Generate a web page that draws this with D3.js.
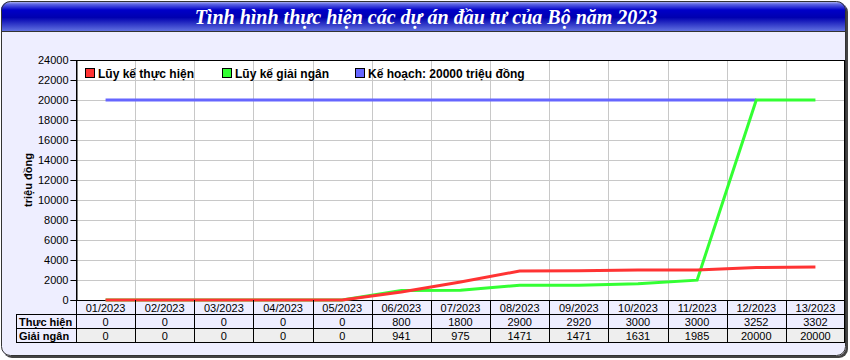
<!DOCTYPE html>
<html><head><meta charset="utf-8">
<script src="https://cdn.jsdelivr.net/npm/d3@7/dist/d3.min.js"></script>
<style>body{margin:0;background:#fff}svg{display:block}</style>
</head><body>
<svg id="c" width="850" height="360"></svg>
<script>
const title = "Tình hình thực hiện các dự án đầu tư của Bộ năm 2023";
const categories = ["01/2023","02/2023","03/2023","04/2023","05/2023","06/2023","07/2023","08/2023","09/2023","10/2023","11/2023","12/2023","13/2023"];
const thucHien = [0,0,0,0,0,800,1800,2900,2920,3000,3000,3252,3302];
const giaiNgan = [0,0,0,0,0,941,975,1471,1471,1631,1985,20000,20000];
const keHoach = [20000,20000,20000,20000,20000,20000,20000,20000,20000,20000,20000,20000,null];
const yTicks = [0,2000,4000,6000,8000,10000,12000,14000,16000,18000,20000,22000,24000];
const seriesNames = ["Lũy kế thực hiện","Lũy kế giải ngân","Kế hoạch: 20000 triệu đồng"];
const seriesColors = ["#ff3333","#33ff33","#6666ff"];
const rowLabels = ["Thực hiện","Giải ngân"];
const yLabel = "triệu đồng";

const svg = d3.select("#c");
const font = "'Liberation Sans', Arial, sans-serif";
const defs = svg.append("defs");
const g1 = defs.append("linearGradient").attr("id","tb").attr("x1",0).attr("y1",0).attr("x2",0).attr("y2",1);
[[0,"#d0d4fa"],[0.1,"#6068e4"],[0.3,"#0000c8"],[0.55,"#0000b0"],[1,"#6070e0"]].forEach(s=>g1.append("stop").attr("offset",s[0]).attr("stop-color",s[1]));
defs.append("clipPath").attr("id","fr").append("rect").attr("x",1).attr("y",1).attr("width",845).attr("height",355).attr("rx",9);

// frame shadow + frame
svg.append("rect").attr("x",3).attr("y",3).attr("width",845).attr("height",355).attr("rx",9).attr("fill","#444");
svg.append("rect").attr("x",1).attr("y",1).attr("width",845).attr("height",355).attr("rx",9).attr("fill","#eeeeff");
svg.append("rect").attr("x",1).attr("y",1).attr("width",845).attr("height",30).attr("fill","url(#tb)").attr("clip-path","url(#fr)");
svg.append("line").attr("x1",1).attr("x2",846).attr("y1",31.5).attr("y2",31.5).attr("stroke","#333");
svg.append("rect").attr("x",1.5).attr("y",1.5).attr("width",844).attr("height",354).attr("rx",9).attr("fill","none").attr("stroke","#333").attr("stroke-width",1);
svg.append("text").attr("x",426).attr("y",24).attr("text-anchor","middle")
  .attr("font-family","'Liberation Serif','Times New Roman',serif").attr("font-style","italic").attr("font-weight","bold")
  .attr("font-size",20).attr("fill","#fff").text(title);

const L = 76, R = 845, T = 60, B = 300;
const x = d3.scaleBand().domain(categories).range([L,R]);
const y = d3.scaleLinear().domain([0,24000]).range([B,T]);

// plot bg
svg.append("rect").attr("x",L).attr("y",T).attr("width",R-L).attr("height",B-T).attr("fill","#fff");
// grid
svg.append("g").selectAll("line").data(yTicks.slice(1)).join("line")
  .attr("x1",L).attr("x2",R).attr("y1",d=>Math.round(y(d))+0.5).attr("y2",d=>Math.round(y(d))+0.5).attr("stroke","#c8c8c8");
svg.append("g").selectAll("line").data(categories.slice(1)).join("line")
  .attr("x1",d=>Math.round(x(d))+0.5).attr("x2",d=>Math.round(x(d))+0.5).attr("y1",T).attr("y2",B).attr("stroke","#c8c8c8");
svg.append("rect").attr("x",L+0.5).attr("y",T+0.5).attr("width",R-L-1).attr("height",B-T).attr("fill","none").attr("stroke","#000");

// y axis
const ya = svg.append("g").attr("transform",`translate(${L+0.5},0)`)
  .call(d3.axisLeft(y).tickValues(yTicks).tickSize(6).tickPadding(2).tickFormat(d3.format("d")));
ya.select(".domain").attr("stroke","#000");
ya.selectAll("text").attr("font-family",font).attr("font-size",11).attr("fill","#000");
svg.append("text").attr("transform","translate(32,180) rotate(-90)").attr("text-anchor","middle")
  .attr("font-family",font).attr("font-weight","bold").attr("font-size",11).text(yLabel);

// lines
const cx = d => x(d) + x.bandwidth()/2;
const line = d3.line().defined(d=>d[1]!=null).x(d=>cx(d[0])).y(d=>y(d[1]));
const series = [[keHoach,2],[giaiNgan,1],[thucHien,0]];
series.forEach(([vals,i])=>{
  svg.append("path").datum(categories.map((c,k)=>[c,vals[k]])).attr("d",line)
    .attr("fill","none").attr("stroke",seriesColors[i]).attr("stroke-width",3).attr("stroke-linejoin","miter");
});

// legend
const legX = [85,222,355];
seriesNames.forEach((n,i)=>{
  svg.append("rect").attr("x",legX[i]+0.5).attr("y",68.5).attr("width",9).attr("height",9).attr("fill",seriesColors[i]).attr("stroke","#000");
  svg.append("text").attr("x",legX[i]+13).attr("y",78).attr("font-family",font).attr("font-weight","bold").attr("font-size",12).text(n);
});

// table
const rowH = 14;
const tb = svg.append("g");
tb.selectAll("text.h").data(categories).join("text").attr("class","h")
  .attr("x",d=>cx(d)).attr("y",B+11.5).attr("text-anchor","middle").attr("font-family",font).attr("font-size",11).text(d=>d);
const rows = [thucHien, giaiNgan];
const rowFill = ["#eeeeff","#eeeeee"];
rows.forEach((vals,r)=>{
  const ry = B + rowH*(r+1);
  tb.append("rect").attr("x",L).attr("y",ry).attr("width",R-L).attr("height",rowH).attr("fill",rowFill[r]);
  tb.append("text").attr("x",19).attr("y",ry+11.5).attr("font-family",font).attr("font-weight","bold").attr("font-size",11).text(rowLabels[r]);
  tb.selectAll(null).data(categories).join("text")
    .attr("x",d=>cx(d)).attr("y",ry+11.5).attr("text-anchor","middle").attr("font-family",font).attr("font-size",11)
    .text((d,k)=>vals[k]);
});
const hl = [B+rowH, B+2*rowH, B+3*rowH];
hl.forEach(v=>tb.append("line").attr("x1",16).attr("x2",R).attr("y1",v+0.5).attr("y2",v+0.5).attr("stroke","#000"));
tb.append("line").attr("x1",16.5).attr("x2",16.5).attr("y1",B+rowH).attr("y2",B+3*rowH+1).attr("stroke","#000");
categories.forEach(c=>tb.append("line").attr("x1",Math.round(x(c))+0.5).attr("x2",Math.round(x(c))+0.5).attr("y1",B).attr("y2",B+3*rowH+1).attr("stroke","#000"));
tb.append("line").attr("x1",R-0.5).attr("x2",R-0.5).attr("y1",B).attr("y2",B+3*rowH+1).attr("stroke","#000");
</script>
</body></html>
